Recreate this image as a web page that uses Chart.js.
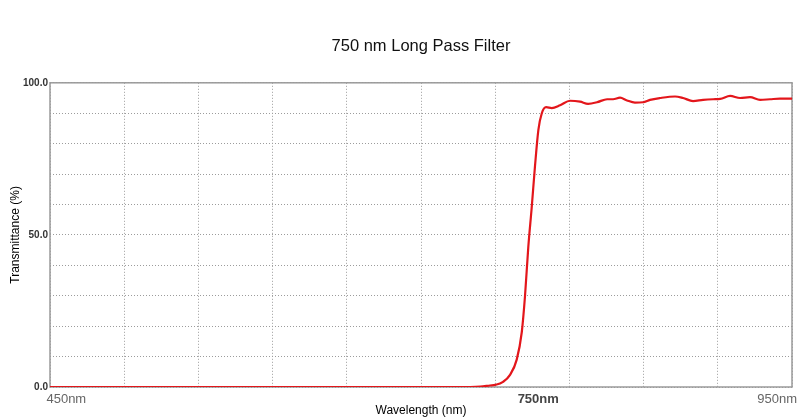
<!DOCTYPE html>
<html>
<head>
<meta charset="utf-8">
<script src="https://cdn.jsdelivr.net/npm/chart.js@4/dist/chart.umd.min.js"></script>
<style>
  html, body { margin: 0; padding: 0; background: #ffffff; }
  #wrap { width: 800px; height: 420px; }
</style>
</head>
<body>
<div id="wrap"><canvas id="c" width="800" height="420"></canvas></div>
<script>
// ---- data ----
const wavelength = [450, 733, 740, 746.5, 750, 755.3, 760, 764.5, 767.9, 770.1, 772.3, 774.6, 776.8, 779.1, 781.4, 784.3, 788.1, 793.7, 800.4, 807.2, 812.6, 818.6, 825.4, 829.4, 834.1, 838.8, 844.2, 849.6, 854.3, 861.1, 871.2, 876.6, 883.3, 890.1, 896.9, 901.6, 908.3, 915, 921.7, 928.5, 935.2, 941.9, 950];
const transmittance = [0, 0, 0.1, 0.5, 0.7, 1.7, 4, 9, 18, 30, 46, 59, 72.5, 84.5, 90, 92, 91.7, 92.6, 94.1, 93.8, 93.1, 93.6, 94.6, 94.6, 95.1, 94.2, 93.5, 93.6, 94.4, 95, 95.5, 95, 94, 94.4, 94.6, 94.7, 95.7, 95, 95.3, 94.4, 94.6, 94.8, 94.8];
const xTickLabels = ['450nm', '750nm', '950nm'];
const xTickLabelAt = [461, 779, 940];
const yTickLabelValues = [0, 50, 100];
const titleText = '750 nm Long Pass Filter';

Chart.defaults.font.family = "'Liberation Sans', Arial, sans-serif";

const framePlugin = {
  id: 'frame',
  beforeDatasetsDraw(chart) {
    const a = chart.chartArea, ctx = chart.ctx;
    ctx.save();
    ctx.strokeStyle = '#9a9a9a';
    ctx.lineWidth = 1.5;
    ctx.strokeRect(a.left, a.top, a.right - a.left, a.bottom - a.top);
    ctx.restore();
  }
};

new Chart(document.getElementById('c'), {
  type: 'line',
  data: {
    datasets: [{
      data: wavelength.map((w, i) => ({ x: w, y: transmittance[i] })),
      borderColor: '#e3161b',
      borderWidth: 2.2,
      pointRadius: 0,
      cubicInterpolationMode: 'monotone',
      fill: false
    }]
  },
  plugins: [framePlugin],
  options: {
    responsive: false,
    animation: false,
    layout: { padding: { left: 0, right: 8, top: 0, bottom: 0 } },
    plugins: {
      legend: { display: false },
      tooltip: { enabled: false },
      title: {
        display: true,
        fullSize: false,
        text: titleText,
        color: '#111',
        font: { size: 16.5, weight: 'normal' },
        padding: { top: 37, bottom: 26 }
      }
    },
    scales: {
      x: {
        type: 'linear', min: 450, max: 950, position: 'bottom',
        ticks: { display: false, stepSize: 50 },
        grid: { color: '#9c9c9c', lineWidth: 1, drawTicks: false },
        border: { display: false, dash: [1, 2] },
        afterFit: s => { s.height = 0; s.paddingLeft = 0; s.paddingRight = 0; }
      },
      xl: {
        type: 'linear', min: 450, max: 950, position: 'bottom',
        grid: { display: false, drawTicks: false },
        border: { display: false },
        afterBuildTicks: s => { s.ticks = xTickLabelAt.map(v => ({ value: v })); },
        ticks: {
          autoSkip: false, maxRotation: 0, padding: 5,
          color: c => c.index === 1 ? '#444' : '#666',
          font: c => ({ size: 13, weight: c.index === 1 ? 'bold' : 'normal' }),
          callback: (v, i) => xTickLabels[i]
        },
        title: {
          display: true, text: 'Wavelength (nm)', color: '#000',
          font: { size: 12 }, padding: { top: 0, bottom: 2 }
        },
        afterFit: s => { s.height = 33; s.paddingLeft = 0; s.paddingRight = 0; }
      },
      y: {
        type: 'linear', min: 0, max: 100,
        ticks: {
          stepSize: 10, padding: 2, color: '#333',
          font: { size: 10, weight: 'bold' },
          callback: v => yTickLabelValues.includes(v) ? v.toFixed(1) : ''
        },
        grid: { color: '#9c9c9c', lineWidth: 1, drawTicks: false },
        border: { display: false, dash: [1, 2] },
        title: {
          display: true, text: 'Transmittance (%)', color: '#000',
          font: { size: 12 }, padding: { top: 8, bottom: 0 }
        },
        afterFit: s => { s.width = 50; }
      }
    }
  }
});
</script>
</body>
</html>
